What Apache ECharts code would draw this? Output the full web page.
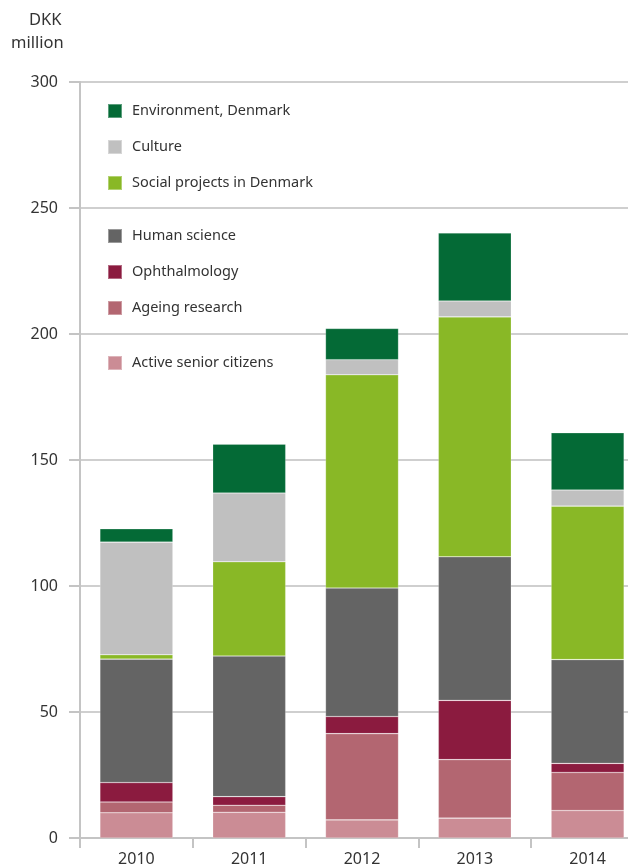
<!DOCTYPE html>
<html>
<head>
<meta charset="utf-8">
<script src="https://cdn.jsdelivr.net/npm/echarts@6/dist/echarts.min.js"></script>
<style>html,body{margin:0;padding:0;background:#fff;}#c{width:628px;height:868px;}</style>
</head>
<body>
<div id="c"></div>
<script>
const years = ['2010', '2011', '2012', '2013', '2014'];
const activeSenior = [10.0, 10.2, 7.2, 7.9, 10.9];
const ageing = [4.3, 2.8, 34.2, 23.2, 15.1];
const ophthalmology = [7.7, 3.4, 6.8, 23.5, 3.6];
const humanScience = [49.0, 55.8, 51.0, 57.0, 41.2];
const socialProjects = [1.7, 37.4, 84.6, 95.2, 60.9];
const culture = [44.7, 27.3, 6.0, 6.3, 6.4];
const environment = [5.3, 19.4, 12.4, 27.0, 22.7];
const yTicks = [0, 50, 100, 150, 200, 250, 300];

const names = ['Active senior citizens', 'Ageing research', 'Ophthalmology', 'Human science',
  'Social projects in Denmark', 'Culture', 'Environment, Denmark'];
const values = [activeSenior, ageing, ophthalmology, humanScience, socialProjects, culture, environment];
const colors = ['#cb8c95', '#b36671', '#8b1b3f', '#646464', '#89b826', '#c0c0c0', '#046a36'];

const FONT = 'Noto Sans';
const chart = echarts.init(document.getElementById('c'), null, {renderer: 'canvas'});

const legendBase = {
  orient: 'vertical', left: 102, itemWidth: 14, itemHeight: 14, itemGap: 20,
  icon: 'rect', selectedMode: false,
  textStyle: {fontFamily: FONT, fontSize: 14.5, color: '#333', padding: [0, 0, 0, 5]}
};

chart.setOption({
  animation: false,
  textStyle: {fontFamily: FONT},
  grid: {left: 80, width: 564, top: 82, bottom: 30, outerBoundsMode: 'none', containLabel: false},
  legend: [
    Object.assign({}, legendBase, {top: 98, data: ['Environment, Denmark', 'Culture', 'Social projects in Denmark']}),
    Object.assign({}, legendBase, {top: 223, data: ['Human science', 'Ophthalmology', 'Ageing research']}),
    Object.assign({}, legendBase, {top: 350, data: ['Active senior citizens']})
  ],
  graphic: [
    {type: 'text', left: 29, top: 12, style: {text: 'DKK', font: '16.5px "Noto Sans"', fill: '#333'}},
    {type: 'text', left: 11, top: 35, style: {text: 'million', font: '16.5px "Noto Sans"', fill: '#333'}}
  ],
  xAxis: {
    type: 'category', data: years,
    axisLine: {lineStyle: {color: '#c4c4c4', width: 2}},
    axisTick: {show: true, length: 10, lineStyle: {color: '#c4c4c4', width: 2}},
    axisLabel: {fontFamily: FONT, fontSize: 16, color: '#333', margin: 13}
  },
  yAxis: {
    type: 'value', min: 0, max: 300, interval: 50,
    axisLine: {show: true, lineStyle: {color: '#c4c4c4', width: 2}},
    axisTick: {show: true, length: 11, lineStyle: {color: '#c4c4c4', width: 2}},
    splitLine: {lineStyle: {color: '#cfcfcf', width: 2}},
    axisLabel: {fontFamily: FONT, fontSize: 16, color: '#333', margin: 22,
      formatter: v => yTicks.includes(v) ? String(v) : ''}
  },
  series: names.map((n, i) => ({
    name: n, type: 'bar', stack: 'total', barWidth: 73,
    data: values[i],
    itemStyle: {color: colors[i], borderColor: 'rgba(255,255,255,0.35)', borderWidth: 0.6}
  }))
});
</script>
</body>
</html>
